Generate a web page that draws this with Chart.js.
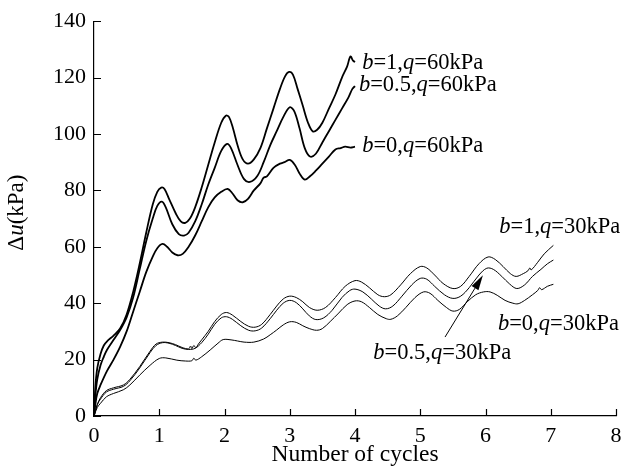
<!DOCTYPE html>
<html>
<head>
<meta charset="utf-8">
<script src="https://cdn.jsdelivr.net/npm/chart.js@4.4.1/dist/chart.umd.min.js"></script>
<style>
  html, body { margin: 0; padding: 0; background: #fff; }
  #wrap { width: 629px; height: 469px; }
</style>
</head>
<body>
<div id="wrap"><canvas id="pwpChart" width="629" height="469"></canvas></div>
<script>
// cycles / excess pore pressure, q = 60 kPa
const cycB1Q60 = [0, 0.02, 0.05, 0.1, 0.15, 0.2, 0.3, 0.4, 0.5, 0.6, 0.7, 0.8, 0.9, 0.97, 1.03, 1.08, 1.15, 1.25, 1.33, 1.4, 1.47, 1.55, 1.65, 1.75, 1.85, 1.95, 2.02, 2.07, 2.13, 2.2, 2.28, 2.36, 2.45, 2.55, 2.65, 2.75, 2.85, 2.93, 2.99, 3.05, 3.12, 3.2, 3.28, 3.35, 3.42, 3.5, 3.6, 3.7, 3.8, 3.88, 3.93, 3.97, 4.0];
const duB1Q60  = [0, 10, 17, 22, 25, 26.5, 28.5, 31, 36, 44, 54, 65, 75, 79.5, 81, 80.5, 77, 72, 69, 68.5, 70, 74, 81, 89, 97, 104, 106.5, 106, 102, 96, 91, 89.5, 91, 95, 102, 109, 116, 120.5, 122, 121, 116, 110, 104, 101, 101.5, 104, 109, 114, 120, 124, 127.5, 126, 125.5];

const cycB05Q60 = [0, 0.02, 0.05, 0.1, 0.15, 0.2, 0.3, 0.4, 0.5, 0.6, 0.7, 0.8, 0.9, 0.97, 1.04, 1.1, 1.2, 1.3, 1.38, 1.45, 1.55, 1.65, 1.75, 1.85, 1.95, 2.04, 2.1, 2.2, 2.3, 2.39, 2.5, 2.6, 2.7, 2.8, 2.9, 3.0, 3.07, 3.15, 3.23, 3.31, 3.4, 3.5, 3.6, 3.7, 3.8, 3.9, 3.96, 4.0];
const duB05Q60  = [0, 7, 13, 18, 21, 23.5, 27, 30.5, 35, 42, 52, 62, 70, 74.5, 76, 74, 68, 64.5, 64, 65, 69, 75, 82, 88, 94, 96.5, 95, 89, 84, 83, 85, 90, 96, 101, 106, 109.5, 108, 102, 95, 92, 93, 97, 101, 105, 109, 113, 116, 117];

const cycB0Q60 = [0, 0.02, 0.05, 0.1, 0.2, 0.3, 0.4, 0.5, 0.6, 0.7, 0.8, 0.9, 0.97, 1.05, 1.12, 1.2, 1.28, 1.36, 1.45, 1.55, 1.65, 1.75, 1.85, 1.95, 2.05, 2.12, 2.2, 2.28, 2.36, 2.45, 2.55, 2.6, 2.65, 2.75, 2.85, 2.92, 3.0, 3.08, 3.15, 3.23, 3.31, 3.4, 3.5, 3.6, 3.7, 3.78, 3.85, 3.93, 4.0];
const duB0Q60  = [0, 4, 8, 11, 16, 20, 24.5, 30, 37, 44, 51, 56.5, 59.5, 61, 60, 58, 57, 57.5, 60, 64, 69, 74, 77.5, 79.5, 80.5, 79, 76.5, 75.8, 77, 80, 82.5, 84.5, 85, 88, 89.5, 90, 90.8, 89, 86, 83.8, 85, 87, 89.5, 92, 94.5, 95, 95.5, 95.2, 95.5];

// cycles / excess pore pressure, q = 30 kPa
const cycB1Q30 = [0, 0.05, 0.1, 0.19, 0.3, 0.45, 0.55, 0.7, 0.86, 0.95, 1.05, 1.15, 1.25, 1.35, 1.45, 1.48, 1.5, 1.53, 1.56, 1.6, 1.65, 1.75, 1.85, 1.95, 2.03, 2.12, 2.25, 2.37, 2.47, 2.57, 2.7, 2.8, 2.9, 3.0, 3.1, 3.2, 3.3, 3.42, 3.55, 3.7, 3.85, 4.0, 4.1, 4.22, 4.35, 4.45, 4.55, 4.7, 4.85, 5.0, 5.1, 5.22, 5.35, 5.5, 5.62, 5.75, 5.9, 6.04, 6.15, 6.27, 6.38, 6.47, 6.58, 6.65, 6.68, 6.7, 6.8, 6.9, 7.04];
const duB1Q30  = [0, 4, 6.5, 9, 10, 11, 13, 17.5, 23, 25.5, 26.2, 26, 25.3, 24.3, 23.8, 24.8, 23.9, 25, 24.2, 25.5, 27, 30, 33.5, 36, 36.7, 35.8, 33.5, 31.8, 31.5, 32.5, 36, 39, 41.5, 42.5, 42, 40.5, 38.5, 37.5, 38.5, 42, 46, 48, 47.5, 45.5, 43, 42.3, 43, 46.5, 50.5, 53, 52.5, 50, 47, 45.2, 46, 49.5, 54, 56.4, 55.5, 53, 50.5, 49.5, 50.5, 51.5, 52.5, 51.8, 54.5, 57.5, 60.5];

const cycB05Q30 = [0, 0.05, 0.1, 0.19, 0.3, 0.45, 0.55, 0.7, 0.86, 0.95, 1.05, 1.15, 1.25, 1.35, 1.45, 1.55, 1.65, 1.75, 1.85, 1.95, 2.03, 2.12, 2.25, 2.37, 2.47, 2.57, 2.7, 2.8, 2.9, 3.0, 3.1, 3.2, 3.3, 3.4, 3.52, 3.65, 3.8, 3.92, 4.0, 4.12, 4.25, 4.37, 4.47, 4.58, 4.72, 4.87, 5.0, 5.1, 5.22, 5.37, 5.5, 5.62, 5.75, 5.9, 6.02, 6.12, 6.25, 6.37, 6.48, 6.6, 6.72, 6.85, 6.95, 7.04];
const duB05Q30  = [0, 4, 6, 8.5, 9.5, 10.5, 12.5, 17, 22.5, 25, 26, 25.8, 25, 24, 23.6, 24, 26, 29, 32.5, 34.8, 35.2, 34.3, 32, 30.4, 30.2, 31.2, 34.5, 37.5, 40, 41, 40.2, 38, 35.5, 34.2, 34.8, 37.5, 42, 44.5, 45, 44, 41.5, 39, 38, 39, 42.5, 46.5, 48.8, 48.5, 46, 43, 41.7, 42.5, 45.5, 50, 52.4, 52, 49.5, 46.8, 45.2, 46.5, 49.5, 52, 54, 55.3];

const cycB0Q30 = [0, 0.05, 0.1, 0.19, 0.3, 0.45, 0.55, 0.7, 0.86, 1.0, 1.1, 1.27, 1.4, 1.5, 1.53, 1.56, 1.65, 1.78, 1.9, 1.98, 2.1, 2.2, 2.3, 2.45, 2.6, 2.7, 2.8, 2.9, 3.0, 3.1, 3.2, 3.3, 3.41, 3.5, 3.62, 3.75, 3.88, 4.0, 4.1, 4.22, 4.35, 4.48, 4.55, 4.65, 4.78, 4.92, 5.05, 5.15, 5.27, 5.4, 5.5, 5.6, 5.72, 5.85, 5.97, 6.07, 6.18, 6.3, 6.42, 6.5, 6.6, 6.72, 6.8, 6.83, 6.86, 6.95, 7.04];
const duB0Q30  = [0, 3, 4.5, 6.8, 8, 9.3, 11, 14.5, 18, 20.4, 20.6, 19.8, 19.5, 19.6, 20.5, 19.8, 21, 23.4, 25.8, 27.1, 27, 26.6, 26.2, 26.2, 27.3, 28.8, 30.5, 32.3, 33.4, 33.2, 32, 31, 30.4, 31, 33.5, 36.5, 39.5, 40.8, 40.5, 38.5, 36, 34.5, 34.3, 35.5, 38.5, 42, 44, 43.5, 41, 38.5, 37.2, 37.8, 40.5, 43, 44, 44, 42.8, 41, 40, 39.8, 41, 43, 44.5, 45.5, 44.8, 46, 46.7];

// axis ticks
const xTicks = [0, 1, 2, 3, 4, 5, 6, 7, 8];
const yTicks = [0, 20, 40, 60, 80, 100, 120, 140];

const SERIF = "'Liberation Serif', 'Times New Roman', serif";
const TICK_PX = 22;
const LABEL_PX = 22.5;

function pts(xs, ys) {
    return xs.map((x, i) => ({x: x, y: ys[i]}));
}

// curve labels: [text, italic] pieces, anchored at (cycles, kPa), left/middle
const curveLabels = [
    {parts: [["b", true], ["=1,", false], ["q", true], ["=60kPa", false]], at: [4.11, 125.3]},
    {parts: [["b", true], ["=0.5,", false], ["q", true], ["=60kPa", false]], at: [4.06, 117.2]},
    {parts: [["b", true], ["=0,", false], ["q", true], ["=60kPa", false]], at: [4.11, 95.6]},
    {parts: [["b", true], ["=1,", false], ["q", true], ["=30kPa", false]], at: [6.21, 66.9]},
    {parts: [["b", true], ["=0,", false], ["q", true], ["=30kPa", false]], at: [6.19, 32.6]},
    {parts: [["b", true], ["=0.5,", false], ["q", true], ["=30kPa", false]], at: [4.28, 22.3]}
];
const arrowFrom = [5.38, 28.0];
const arrowTo = [5.96, 49.9];

function drawRich(ctx, parts, x, y, px) {
    let cx = x;
    parts.forEach(([txt, ital]) => {
        ctx.font = (ital ? "italic " : "") + px + "px " + SERIF;
        ctx.fillText(txt, cx, y);
        cx += ctx.measureText(txt).width;
    });
    return cx - x;
}

function richWidth(ctx, parts, px) {
    let w = 0;
    parts.forEach(([txt, ital]) => {
        ctx.font = (ital ? "italic " : "") + px + "px " + SERIF;
        w += ctx.measureText(txt).width;
    });
    return w;
}

const decorations = {
    id: "decorations",
    afterDraw(chart) {
        const ctx = chart.ctx;
        const xs = chart.scales.x, ys = chart.scales.y;
        const area = chart.chartArea;
        ctx.save();

        // inward tick marks
        ctx.strokeStyle = "#000";
        ctx.lineWidth = 1.2;
        ctx.beginPath();
        xTicks.forEach(v => {
            const px = Math.round(xs.getPixelForValue(v)) + 0.5;
            ctx.moveTo(px, area.bottom);
            ctx.lineTo(px, area.bottom - 7);
        });
        yTicks.forEach(v => {
            const py = Math.round(ys.getPixelForValue(v)) + 0.5;
            ctx.moveTo(area.left, py);
            ctx.lineTo(area.left + 7, py);
        });
        ctx.stroke();

        // curve labels
        ctx.fillStyle = "#000";
        ctx.textBaseline = "middle";
        ctx.textAlign = "left";
        curveLabels.forEach(l => {
            drawRich(ctx, l.parts, xs.getPixelForValue(l.at[0]), ys.getPixelForValue(l.at[1]), LABEL_PX);
        });

        // arrow to the b=0.5, q=30kPa curve
        const x0 = xs.getPixelForValue(arrowFrom[0]), y0 = ys.getPixelForValue(arrowFrom[1]);
        const x1 = xs.getPixelForValue(arrowTo[0]), y1 = ys.getPixelForValue(arrowTo[1]);
        const ang = Math.atan2(y1 - y0, x1 - x0);
        const head = 15, half = 4;
        const bx = x1 - head * Math.cos(ang), by = y1 - head * Math.sin(ang);
        ctx.lineWidth = 1;
        ctx.beginPath();
        ctx.moveTo(x0, y0);
        ctx.lineTo(bx, by);
        ctx.stroke();
        ctx.beginPath();
        ctx.moveTo(x1, y1);
        ctx.lineTo(bx + half * Math.sin(ang), by - half * Math.cos(ang));
        ctx.lineTo(bx - half * Math.sin(ang), by + half * Math.cos(ang));
        ctx.closePath();
        ctx.fill();

        // y axis title with italic u
        const parts = [["\u0394", false], ["u", true], ["(kPa)", false]];
        const w = richWidth(ctx, parts, 23);
        ctx.translate(17, (area.top + area.bottom) / 2 - 6);
        ctx.rotate(-Math.PI / 2);
        drawRich(ctx, parts, -w / 2, 0, 23);
        ctx.restore();
    }
};

function series(data, width) {
    return {
        data: data,
        borderColor: "#000",
        borderWidth: width,
        pointRadius: 0,
        showLine: true,
        fill: false,
        tension: 0.35
    };
}

new Chart("pwpChart", {
    type: "scatter",
    data: {
        datasets: [
            series(pts(cycB1Q60, duB1Q60), 1.8),
            series(pts(cycB05Q60, duB05Q60), 1.8),
            series(pts(cycB0Q60, duB0Q60), 1.8),
            series(pts(cycB1Q30, duB1Q30), 1),
            series(pts(cycB05Q30, duB05Q30), 1),
            series(pts(cycB0Q30, duB0Q30), 1)
        ]
    },
    options: {
        responsive: false,
        animation: false,
        layout: { padding: { top: 21, right: 13, left: 0, bottom: 0 } },
        plugins: {
            legend: { display: false },
            tooltip: { enabled: false }
        },
        scales: {
            x: {
                type: "linear",
                min: 0,
                max: 8,
                afterFit: s => { s.height = 53; },
                afterBuildTicks: s => { s.ticks = xTicks.map(v => ({value: v})); },
                ticks: { color: "#000", padding: 7, maxRotation: 0, font: { family: SERIF, size: TICK_PX } },
                grid: { drawOnChartArea: false, drawTicks: false },
                border: { display: true, color: "#000", width: 1.2 },
                title: {
                    display: true,
                    text: "Number of cycles",
                    color: "#000",
                    font: { family: SERIF, size: 23.5, lineHeight: 1.2 },
                    padding: { top: 0, bottom: 0 }
                }
            },
            y: {
                min: 0,
                max: 140,
                afterFit: s => { s.width = 94; },
                afterBuildTicks: s => { s.ticks = yTicks.map(v => ({value: v})); },
                ticks: { color: "#000", padding: 8, font: { family: SERIF, size: TICK_PX } },
                grid: { drawOnChartArea: false, drawTicks: false },
                border: { display: true, color: "#000", width: 1.2 }
            }
        }
    },
    plugins: [decorations]
});
</script>
</body>
</html>
